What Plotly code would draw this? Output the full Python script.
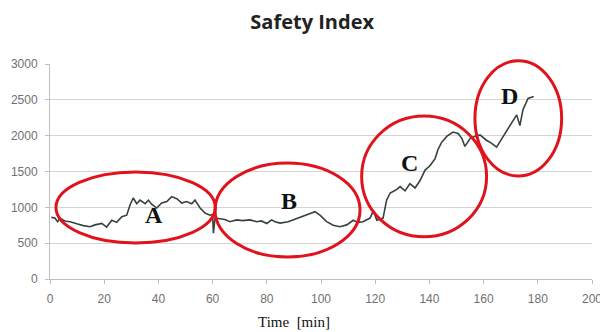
import plotly.graph_objects as go

# ---- data ----
time_min = [0.5, 1.8, 2.8, 3.7, 5.5, 7.4, 9.9, 12.3, 14.8, 16.6, 19.1, 20.9, 22.8, 24.6,
            26.5, 28.3, 29.5, 30.7, 32.0, 33.2, 35.1, 36.3, 37.6, 39.4, 41.2, 43.1, 44.9,
            46.8, 48.6, 50.4, 52.3, 53.5, 55.4, 57.2, 59.0, 60.0, 60.3, 60.9, 62.7, 64.5,
            66.4, 68.9, 71.0, 73.8, 76.3, 78.0, 80.0, 81.8, 83.0, 84.9, 87.9, 91.0, 94.7,
            97.8, 99.6, 102.1, 104.5, 107.0, 109.5, 111.9, 113.5, 115.5, 118.1, 119.3,
            120.6, 122.9, 124.2, 125.5, 126.6, 128.0, 129.2, 131.0, 132.8, 134.7, 136.5,
            138.4, 140.2, 142.1, 143.1, 144.4, 146.4, 148.7, 150.6, 152.0, 153.1, 155.0,
            156.8, 158.7, 160.9, 162.7, 164.8, 167.2, 169.7, 172.2, 173.4, 174.5, 176.4,
            177.7, 178.5]
safety_index = [860, 850, 800, 846, 810, 800, 770, 745, 730, 755, 775, 725, 820, 790,
                870, 890, 1030, 1130, 1050, 1100, 1050, 1100, 1040, 990, 1060, 1080, 1150,
                1120, 1060, 1080, 1050, 1100, 990, 920, 890, 900, 640, 850, 840, 830,
                800, 825, 815, 825, 800, 810, 775, 825, 800, 780, 800, 845, 890,
                940, 890, 800, 750, 730, 755, 820, 790, 800, 850, 950,
                820, 850, 1100, 1200, 1220, 1250, 1290, 1230, 1330, 1270, 1370,
                1520, 1580, 1680, 1800, 1900, 1990, 2050, 2030, 1960, 1850, 1960,
                1990, 2010, 1940, 1900, 1840, 1990, 2150, 2290, 2140, 2360, 2520,
                2540, 2545]
assert len(time_min) == len(safety_index)

x_ticks = [0, 20, 40, 60, 80, 100, 120, 140, 160, 180, 200]
y_ticks = [0, 500, 1000, 1500, 2000, 2500, 3000]

# phase annotations: label, label position (t, value), ellipse bounds (t0, t1, v0, v1)
phase_labels = ["A", "B", "C", "D"]
label_t = [38.4, 88.2, 132.5, 169.4]
label_v = [893, 1088, 1618, 2552]
ell_t0 = [2.2, 60.9, 115.0, 156.8]
ell_t1 = [61.0, 114.4, 161.1, 188.8]
ell_v0 = [502, 307, 590, 1437]
ell_v1 = [1492, 1618, 2273, 3045]

X_RANGE = [0, 200]
Y_RANGE = [0, 3000]

fig = go.Figure()
fig.add_trace(go.Scatter(
    x=time_min, y=safety_index, mode="lines",
    line=dict(color="#36423e", width=1.6),
    showlegend=False, hoverinfo="skip",
))

def px(t):
    return (t - X_RANGE[0]) / (X_RANGE[1] - X_RANGE[0])

def py(v):
    return (v - Y_RANGE[0]) / (Y_RANGE[1] - Y_RANGE[0])

for i in range(len(phase_labels)):
    fig.add_shape(type="circle", xref="paper", yref="paper",
                  x0=px(ell_t0[i]), x1=px(ell_t1[i]),
                  y0=py(ell_v0[i]), y1=py(ell_v1[i]),
                  line=dict(color="#e0131c", width=3))
    fig.add_annotation(x=label_t[i], y=label_v[i], xref="x", yref="y",
                       text="<b>" + phase_labels[i] + "</b>", showarrow=False,
                       font=dict(family="Liberation Serif", size=24, color="#111111"))

# x-axis title placed like the reference (left of plot centre)
fig.add_annotation(x=0.451, y=-0.2, xref="paper", yref="paper", xanchor="center",
                   yanchor="middle", showarrow=False, text="Time  [min]",
                   font=dict(family="Liberation Serif", size=15, color="#111111"))

fig.update_layout(
    width=600, height=324,
    margin=dict(l=42, r=16, t=56, b=53),
    paper_bgcolor="white", plot_bgcolor="white",
    title=dict(text="<b>Safety Index</b>", x=0.507, xanchor="center", y=0.957,
               yanchor="middle",
               font=dict(family="Open Sans", size=20, color="#222222")),
    font=dict(family="Liberation Sans", size=12, color="#666666"),
)
fig.update_xaxes(range=X_RANGE, tickvals=x_ticks, showgrid=False, zeroline=False,
                 automargin=False,
                 showline=True, linecolor="#bfbfbf", linewidth=1,
                 ticks="outside", ticklen=4, tickcolor="#bfbfbf", ticklabelstandoff=5,
                 tickfont=dict(family="Liberation Sans", size=12, color="#707070"))
fig.update_yaxes(range=Y_RANGE, tickvals=y_ticks, showgrid=True, gridcolor="#d4d4d4",
                 automargin=False,
                 gridwidth=1, zeroline=False, showline=True, linecolor="#bfbfbf",
                 linewidth=1, ticks="outside", ticklen=4, tickcolor="#bfbfbf",
                 ticklabelstandoff=5,
                 tickfont=dict(family="Liberation Sans", size=12, color="#707070"))

fig.write_html("out.html")
